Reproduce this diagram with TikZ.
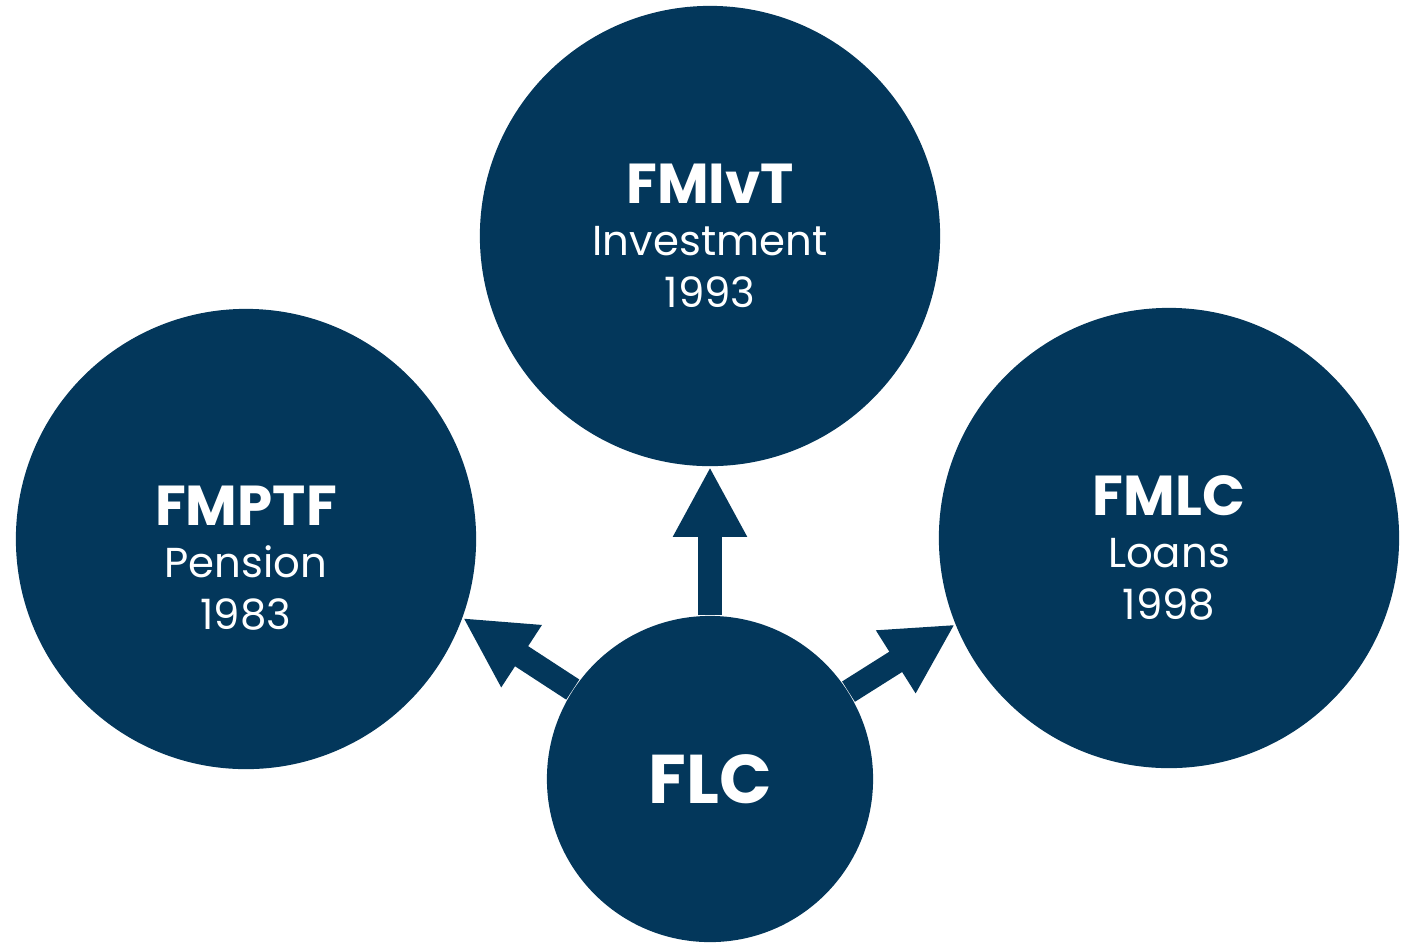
\documentclass[tikz,border=0pt]{standalone}
\usepackage{fontspec}
\setmainfont{Poppins}
\usetikzlibrary{arrows.meta}
\definecolor{navy}{RGB}{3,55,91}
\tikzset{
  fund/.style={circle,fill=navy,minimum size=4.6cm,inner sep=0pt},
  flow/.style={navy,line width=0.24cm,-{Triangle[length=0.70cm,width=0.69cm]}},
  lbl/.style={text=white,align=center,inner sep=0pt,font=\fontsize{11.9}{14.8}\selectfont},
}
\newcommand\fname[1]{{\fontsize{16}{14.8}\selectfont\bfseries #1}}

\begin{document}
\begin{tikzpicture}[x=0.01cm,y=-0.01cm]
        \useasboundingbox (0,0) rectangle (1405,944);
        \node[fund] (FMIvT) at (710,236){};
        \node[fund] (FMPTF) at (246,539){};
        \node[fund] (FMLC) at (1169,538){};
        \node[fund,minimum size=3.26cm] (FLC) at (710,779){};
        \node[lbl] (FMIvT-txt) at (710,236){\fname{FMIvT}\\Investment\\1993};
        \node[lbl] (FMPTF-txt) at (246,558){\fname{FMPTF}\\Pension\\1983};
        \node[lbl] (FMLC-txt) at (1169,548){\fname{FMLC}\\Loans\\1998};
        \node[lbl,font=\fontsize{19.6}{20}\selectfont\bfseries] (FLC-txt) at (710,779){FLC};
        \draw[flow] (FLC) -- (FMIvT.-90);
        \draw[flow] (FLC) -- (FMPTF.-20);
        \draw[flow] (FLC) -- (FMLC.202);
    \end{tikzpicture}
\end{document}
